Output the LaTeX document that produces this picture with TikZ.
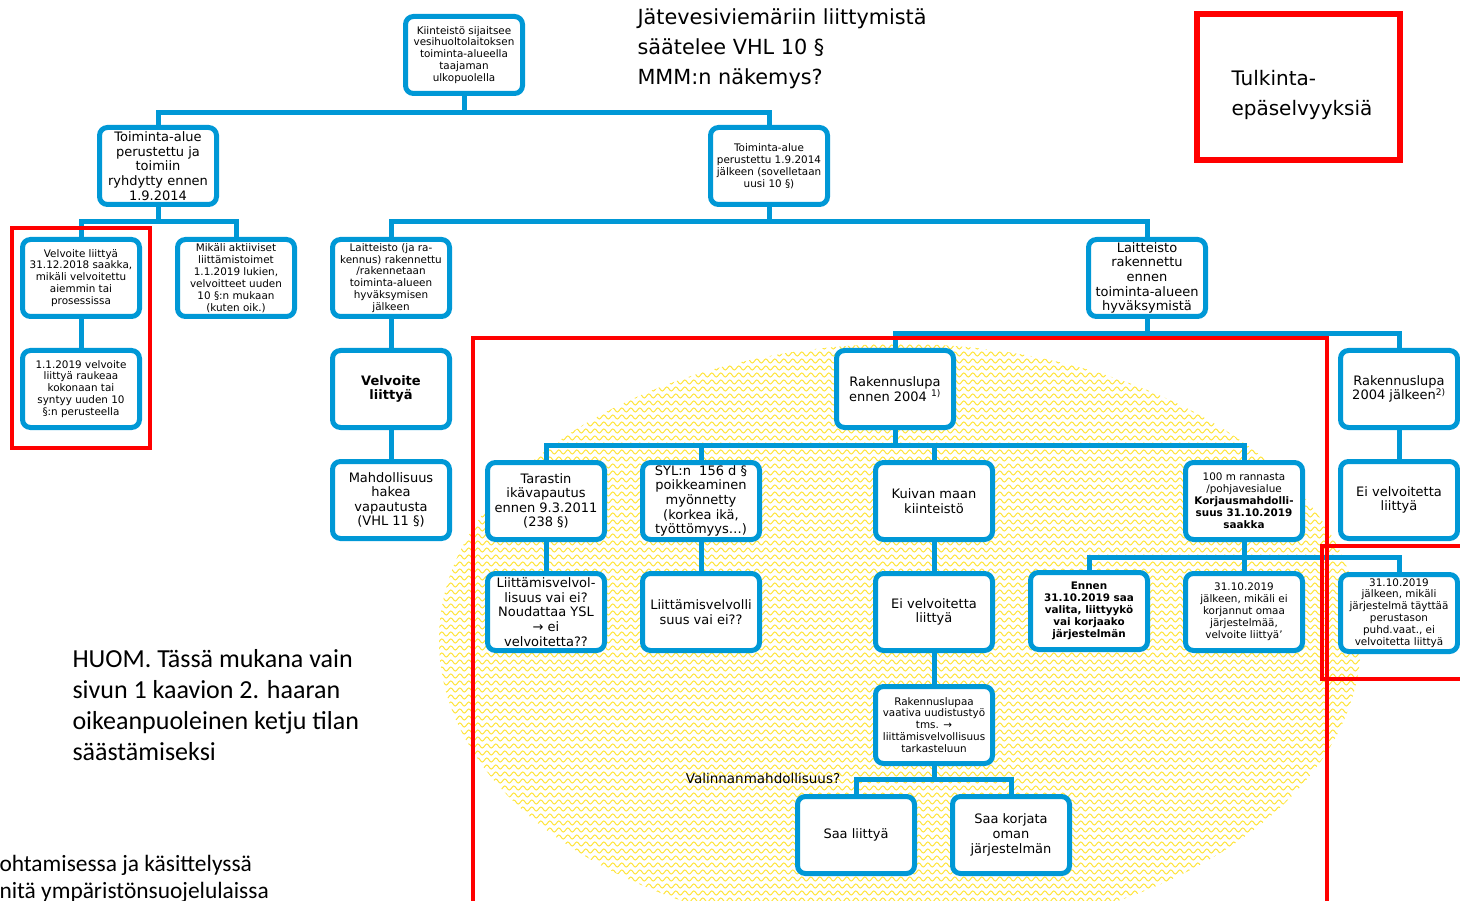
\documentclass[tikz,border=0pt]{standalone}
\usepackage{fontspec}
\usepackage{xcolor}
\usepackage{tikz}
\usetikzlibrary{decorations.pathmorphing}

\newfontfamily\boxfont{DejaVu Sans}
\newfontfamily\slidefont{Carlito}
\newcommand{\txtsmall}{\boxfont\fontsize{10.4}{11.9}\selectfont}
\newcommand{\txtbig}{\boxfont\fontsize{13}{14.6}\selectfont}

\definecolor{vesi}{RGB}{0,152,214}
\definecolor{zig}{RGB}{255,228,60}

\begin{document}
\begin{tikzpicture}[x=1pt, y=-1pt, node distance=111pt]

\tikzstyle{process} =
[rectangle,
rounded corners=8pt,
minimum width=117pt,
minimum height=77pt,
inner sep=1pt,
align=center,
draw=vesi,
line width=5pt,
fill=white,
font=\txtbig]

\tikzstyle{smallproc} = [process, font=\txtsmall]

\tikzstyle{link} = [draw=vesi, line width=5pt]

\tikzstyle{redbox} = [draw=red, line width=4.5pt]

\tikzstyle{wave} =
[draw=zig,
line width=1pt,
decorate,
decoration={snake, amplitude=2pt, segment length=9pt}]

\useasboundingbox (0,0) rectangle (1460,901);

% keltainen tausta-alue
\begin{scope}
\clip (900,640) ellipse [x radius=461pt, y radius=296pt];
\foreach \yy in {340,347,...,945}
  \draw[wave] (430,\yy) -- (1375,\yy);
\end{scope}

% ylin taso
\node (kiinteisto) [smallproc] at (464,55)
{Kiinteistö sijaitsee\\vesihuoltolaitoksen\\toiminta-alueella\\taajaman\\ulkopuolella};

\node (ennen) [process] at (158,166)
{Toiminta-alue\\perustettu ja\\toimiin\\ryhdytty ennen\\1.9.2014};

\node (jalkeen) [smallproc] at (769,166)
{Toiminta-alue\\perustettu 1.9.2014\\jälkeen (sovelletaan\\uusi 10 §)};

% vasen haara
\node (velv2018) [smallproc] at (81,278)
{Velvoite liittyä\\31.12.2018 saakka,\\mikäli velvoitettu\\aiemmin tai\\prosessissa};

\node (raukeaa) [smallproc, below of=velv2018]
{1.1.2019 velvoite\\liittyä raukeaa\\kokonaan tai\\syntyy uuden 10\\§:n perusteella};

\node (aktiivi) [smallproc] at (236,278)
{Mikäli aktiiviset\\liittämistoimet\\1.1.2019 lukien,\\velvoitteet uuden\\10 §:n mukaan\\(kuten oik.)};

% keskimmäinen haara
\node (laitjalk) [smallproc] at (391,278)
{Laitteisto (ja ra-\\kennus) rakennettu\\/rakennetaan\\toiminta-alueen\\hyväksymisen\\jälkeen};

\node (velvoite) [process, below of=laitjalk]
{\bfseries Velvoite\\\bfseries liittyä};

\node (vapautus) [process, below of=velvoite]
{Mahdollisuus\\hakea\\vapautusta\\(VHL 11 §)};

% oikea haara
\node (laitennen) [process] at (1147,278)
{Laitteisto\\rakennettu\\ennen\\toiminta-alueen\\hyväksymistä};

\node (rl2004) [process] at (895,389)
{Rakennuslupa\\ennen 2004 \textsuperscript{1)}};

\node (rl2004j) [process] at (1399,389)
{Rakennuslupa\\2004 jälkeen\textsuperscript{2)}};

\node (eivelv1) [process, below of=rl2004j]
{Ei velvoitetta\\liittyä};

\node (tarasti) [process] at (546,501)
{Tarastin\\ikävapautus\\ennen 9.3.2011\\(238 §)};

\node (ysl) [process, below of=tarasti]
{Liittämisvelvol-\\lisuus vai ei?\\Noudattaa YSL\\→ ei\\velvoitetta??};

\node (syl) [process] at (701,501)
{SYL:n \ 156 d §\\poikkeaminen\\myönnetty\\(korkea ikä,\\työttömyys…)};

\node (sylvelv) [process, below of=syl]
{Liittämisvelvolli\\suus vai ei??};

\node (kuiva) [process] at (934,501)
{Kuivan maan\\kiinteistö};

\node (eivelv2) [process, below of=kuiva]
{Ei velvoitetta\\liittyä};

\node (uudistus) [smallproc, below of=eivelv2, yshift=-2pt]
{Rakennuslupaa\\vaativa uudistustyö\\tms. →\\liittämisvelvollisuus\\tarkasteluun};

\node (liittyy) [process] at (856,835)
{Saa liittyä};

\node (korjata) [process] at (1011,835)
{Saa korjata\\oman\\järjestelmän};

\node (ranta) [smallproc] at (1244,501)
{100 m rannasta\\/pohjavesialue\\\textbf{Korjausmahdolli-}\\\textbf{suus 31.10.2019}\\\textbf{saakka}};

\node (valita) [smallproc] at (1089,611)
{\bfseries Ennen\\\bfseries 31.10.2019 saa\\\bfseries valita, liittyykö\\\bfseries vai korjaako\\\bfseries järjestelmän};

\node (korjaamaton) [smallproc, below of=ranta]
{31.10.2019\\jälkeen, mikäli ei\\korjannut omaa\\järjestelmää,\\velvoite liittyä’};

\node (perustaso) [smallproc] at (1399,613)
{31.10.2019\\jälkeen, mikäli\\järjestelmä täyttää\\perustason\\puhd.vaat., ei\\velvoitetta liittyä};

% yhdyslinjat
\coordinate (bus1) at (0,113);
\coordinate (bus2) at (0,222);
\coordinate (bus3) at (0,334);
\coordinate (bus4) at (0,445);
\coordinate (bus5) at (0,557);
\coordinate (bus6) at (0,779);

\draw[link] (kiinteisto.south) -- (kiinteisto.south |- bus1);
\draw[link] (ennen.north) |- (jalkeen.north |- bus1) -- (jalkeen.north);

\draw[link] (ennen.south) -- (ennen.south |- bus2);
\draw[link] (velv2018.north) |- (aktiivi.north |- bus2) -- (aktiivi.north);
\draw[link] (velv2018) -- (raukeaa);

\draw[link] (jalkeen.south) -- (jalkeen.south |- bus2);
\draw[link] (laitjalk.north) |- (laitennen.north |- bus2) -- (laitennen.north);
\draw[link] (laitjalk) -- (velvoite);
\draw[link] (velvoite) -- (vapautus);

\draw[link] (laitennen.south) -- (laitennen.south |- bus3);
\draw[link] (rl2004.north) |- (rl2004j.north |- bus3) -- (rl2004j.north);
\draw[link] (rl2004j) -- (eivelv1);

\draw[link] (rl2004.south) -- (rl2004.south |- bus4);
\draw[link] (tarasti.north) |- (ranta.north |- bus4) -- (ranta.north);
\draw[link] (syl.north) -- (syl.north |- bus4);
\draw[link] (kuiva.north) -- (kuiva.north |- bus4);
\draw[link] (tarasti) -- (ysl);
\draw[link] (syl) -- (sylvelv);
\draw[link] (kuiva) -- (eivelv2);
\draw[link] (eivelv2) -- (uudistus);

\draw[link] (ranta.south) -- (ranta.south |- bus5);
\draw[link] (valita.north) |- (perustaso.north |- bus5) -- (perustaso.north);
\draw[link] (korjaamaton.north) -- (korjaamaton.north |- bus5);

\draw[link] (uudistus.south) -- (uudistus.south |- bus6);
\draw[link] (liittyy.north) |- (korjata.north |- bus6) -- (korjata.north);

\node (valinta) [font=\boxfont\fontsize{13.5}{15}\selectfont] at (763,778)
{Valinnanmahdollisuus?};

% punaiset rajaukset
\draw[redbox] (12,228) rectangle (150,448);
\draw[redbox] (473,338) rectangle (1327,915);
\draw[redbox] (1322,546) rectangle (1475,679);
\draw[redbox, line width=5.5pt] (1197,14) rectangle (1400,160);

% tekstit
\node (otsikko) [anchor=west, align=left,
font=\boxfont\fontsize{20.8}{30}\selectfont] at (634,49)
{Jätevesiviemäriin liittymistä\\säätelee VHL 10 §\\MMM:n näkemys?};

\node (tulkinta) [anchor=west, align=left,
font=\boxfont\fontsize{20}{30.5}\selectfont] at (1228,95)
{Tulkinta-\\epäselvyyksiä};

\node (huom) [anchor=west, align=left,
font=\slidefont\fontsize{26}{31}\selectfont] at (69,705)
{HUOM. Tässä mukana vain\\sivun 1 kaavion 2. haaran\\oikeanpuoleinen ketju tilan\\säästämiseksi};

\node (alaosa) [anchor=west, align=left,
font=\slidefont\fontsize{23.4}{27}\selectfont] at (-4,879)
{ohtamisessa ja käsittelyssä\\nitä ympäristönsuojelulaissa};

\end{tikzpicture}
\end{document}
